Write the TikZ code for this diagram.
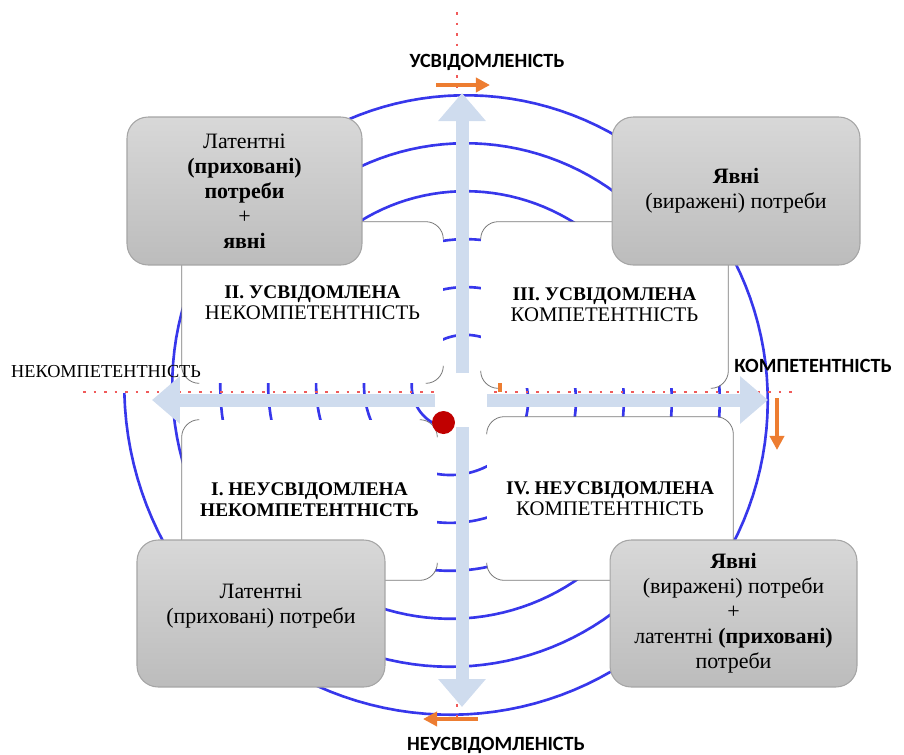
\documentclass[tikz,border=0pt]{standalone}
\usepackage{fontspec}
\setmainfont{Liberation Serif}
\newfontfamily\axisfont{Carlito}
\usetikzlibrary{arrows.meta}
\definecolor{spiralblue}{RGB}{55,55,235}
\definecolor{axisblue}{RGB}{207,220,238}
\definecolor{quadline}{RGB}{120,120,120}
\definecolor{boxtop}{RGB}{216,216,216}
\definecolor{boxbot}{RGB}{188,188,188}
\definecolor{boxline}{RGB}{165,165,165}
\definecolor{dotred}{RGB}{240,90,90}
\definecolor{dotcol}{RGB}{192,0,0}
\definecolor{orangeA}{RGB}{237,125,49}
\newcommand\qbf{\bfseries\fontsize{11}{11.4}\selectfont}
\newcommand\qrg{\mdseries\fontsize{11.8}{11.4}\selectfont}
\begin{document}
\begin{tikzpicture}[x=0.02cm,y=-0.02cm,
  spiralline/.style={draw=spiralblue, line width=1.5pt},
  quad/.style={fill=white, rounded corners=10pt, align=center, inner sep=0pt},
  qline/.style={draw=quadline, line width=0.45pt, rounded corners=10pt},
  needbox/.style={draw=boxline, line width=0.6pt, top color=boxtop, bottom color=boxbot, rounded corners=12pt, align=center, inner sep=0pt, font=\fontsize{12.5}{14.2}\selectfont},
  boxtext/.style={align=center, inner sep=0pt, font=\fontsize{12.5}{14.2}\selectfont},
  axisarrow/.style={draw=axisblue, line width=0.26cm, -{Triangle[width=0.92cm,length=0.56cm]}},
  orangearrow/.style={draw=orangeA, line width=2.8pt, -{Triangle[width=8pt,length=8pt]}},
  dotline/.style={draw=dotred, line width=1pt, dash pattern=on 1.5pt off 4.5pt},
  axislabel/.style={font=\axisfont\bfseries\fontsize{11.5}{13}\selectfont, inner sep=2pt},
  sidelabel/.style={font=\fontsize{10.4}{12}\selectfont, inner sep=2pt}]
\useasboundingbox (0,0) rectangle (904,755);
% spiral
\draw[spiralline] plot[domain=-1980:245, samples=900, variable=\t]
  ({458+(37+0.133333*(245-\t))*cos(\t)}, {393-(37+0.133333*(245-\t))*sin(\t)});
% quadrants (white fields)
\node[quad, minimum width=5.22cm, minimum height=3.22cm] (q2) at (312.5,302.5)
  {{\qbf ІІ. УСВІДОМЛЕНА}\\{\qrg НЕКОМПЕТЕНТНІСТЬ}};
\node[quad, minimum width=4.94cm, minimum height=3.32cm] (q3) at (604.5,305)
  {{\qbf ІІІ. УСВІДОМЛЕНА}\\{\qrg КОМПЕТЕНТНІСТЬ}};
\node[quad, minimum width=5.10cm, minimum height=3.20cm] (q1) at (309.5,500)
  {{\qbf І. НЕУСВІДОМЛЕНА}\\{\qbf НЕКОМПЕТЕНТНІСТЬ}};
\node[quad, minimum width=4.92cm, minimum height=3.26cm] (q4) at (610,498.5)
  {{\qbf IV. НЕУСВІДОМЛЕНА}\\{\qrg КОМПЕТЕНТНІСТЬ}};
% quadrant outlines (visible parts)
\draw[qline] ([yshift=-10pt]q2.north east) -- (q2.north east) -- (q2.north west) -- (q2.south west) -- ([xshift=10pt]q2.south west);
\draw[qline] ([yshift=10pt]q2.south east) -- (q2.south east) -- ([xshift=-10pt]q2.south east);
\draw[qline] ([yshift=-10pt]q3.north west) -- (q3.north west) -- (q3.north east) -- (q3.south east) -- ([xshift=-10pt]q3.south east);
\draw[qline] ([yshift=10pt]q3.south west) -- (q3.south west) -- ([xshift=10pt]q3.south west);
\draw[qline] ([xshift=10pt]q1.north west) -- (q1.north west) -- (q1.south west) -- (q1.south east) -- ([yshift=10pt]q1.south east);
\draw[qline] ([xshift=-10pt]q1.north east) -- (q1.north east) -- ([yshift=-10pt]q1.north east);
\draw[qline] ([yshift=-10pt]q4.north west) -- (q4.north west) -- (q4.north east) -- (q4.south east) -- (q4.south west) -- ([yshift=10pt]q4.south west);
% dotted guide lines
\draw[dotline] (457,12) -- (457,92);
\draw[dotline] (457,704) -- (457,720);
\draw[dotline] (83,392) -- (795,392);
\fill[white] (461,398) circle (26);
% axes
\coordinate (aT0) at (462,373); \coordinate (aT) at (462,93);
\coordinate (aB0) at (462,427); \coordinate (aB) at (462,707);
\coordinate (aL0) at (435,400); \coordinate (aL) at (152,400);
\coordinate (aR0) at (487,400); \coordinate (aR) at (768,400);
\draw[axisarrow] (aT0) -- (aT);
\draw[axisarrow] (aB0) -- (aB);
\draw[axisarrow] (aL0) -- (aL);
\draw[axisarrow] (aR0) -- (aR);
% need boxes
\node[needbox, minimum width=4.70cm, minimum height=2.96cm] (b2) at (244.5,191)
  {Латентні\\\textbf{(приховані)}\\\textbf{потреби}\\+\\\textbf{явні}};
\node[needbox, minimum width=4.96cm, minimum height=2.96cm] (b3) at (736,191)
  {\textbf{Явні}\\(виражені) потреби};
\node[needbox, minimum width=4.96cm, minimum height=2.94cm] (b1) at (261,613.5) {};
\node[boxtext] (b1t) at (261,606) {Латентні\\(приховані) потреби};
\node[needbox, minimum width=4.94cm, minimum height=2.94cm] (b4) at (733.5,613.5)
  {\textbf{Явні}\\(виражені) потреби\\+\\латентні \textbf{(приховані)}\\потреби};
% red dot
\node[circle, fill=dotcol, minimum size=0.46cm, inner sep=0pt] (dot) at (443.5,422.5) {};
% orange arrows
\coordinate (oT0) at (436,85); \coordinate (oT) at (490,85);
\coordinate (oR0) at (777,398); \coordinate (oR) at (777,450);
\coordinate (oB0) at (478,719); \coordinate (oB) at (423,719);
\draw[orangearrow] (oT0) -- (oT);
\draw[orangearrow] (oR0) -- (oR);
\draw[orangearrow] (oB0) -- (oB);
\coordinate (oC0) at (500,383); \coordinate (oC) at (500,392);
\draw[draw=orangeA, line width=1.8pt] (oC0) -- (oC);
% axis labels
\node[axislabel, fill=white] (lt) at (487,62) {УСВІДОМЛЕНІСТЬ};
\node[axislabel] (lb) at (496,745) {НЕУСВІДОМЛЕНІСТЬ};
\node[axislabel] (lr) at (813,366) {КОМПЕТЕНТНІСТЬ};
\node[sidelabel] (ll) at (106,372) {НЕКОМПЕТЕНТНІСТЬ};
\end{tikzpicture}
\end{document}
